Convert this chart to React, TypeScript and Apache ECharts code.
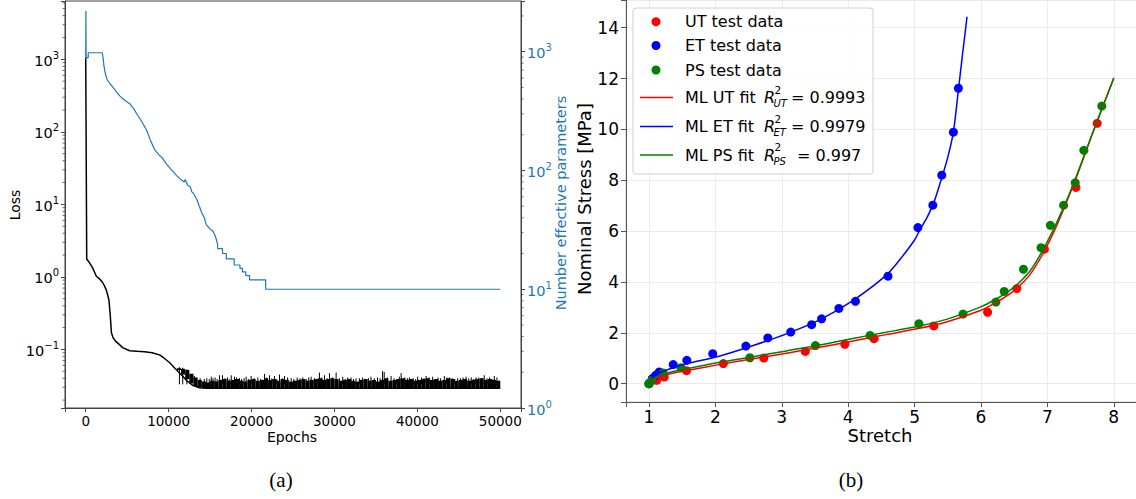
import React, { useEffect, useRef } from 'react';
import * as echarts from 'echarts';

// ---------- (a) training history ----------
const lossCurve: [number, number][] = [
  [0, 1050], [120, 1.75], [400, 1.6], [800, 1.35], [1280, 1.02], [1700, 0.93], [2000, 0.85],
  [2290, 0.74], [2500, 0.65], [2650, 0.56], [2800, 0.48], [2950, 0.3], [3100, 0.17], [3300, 0.145],
  [3600, 0.13], [3900, 0.121], [4500, 0.105], [5300, 0.096], [6200, 0.094], [7100, 0.093],
  [8000, 0.09], [8900, 0.084], [9500, 0.075], [10100, 0.066], [10900, 0.053], [11500, 0.045],
  [12200, 0.037], [12900, 0.032], [13700, 0.0296], [14500, 0.0292], [50000, 0.0292],
];

// noise band of the loss: [epoch, low, high]
const lossNoise: [number, number, number][] = [
  [11000, 0.052, 0.055], [11500, 0.045, 0.054], [12000, 0.039, 0.052], [12500, 0.034, 0.046],
  [13000, 0.031, 0.041], [13500, 0.0298, 0.038], [14000, 0.0293, 0.036], [14500, 0.0292, 0.035],
  [15000, 0.0292, 0.037], [15500, 0.0292, 0.036], [16000, 0.0292, 0.038], [16500, 0.0292, 0.039],
  [17000, 0.0292, 0.037], [17500, 0.0292, 0.038], [18000, 0.0292, 0.039], [18500, 0.0292, 0.037],
  [19000, 0.0292, 0.036], [19500, 0.0292, 0.038], [20000, 0.0292, 0.039], [20500, 0.0292, 0.037],
  [21000, 0.0292, 0.038], [21500, 0.0292, 0.04], [22000, 0.0292, 0.038], [22500, 0.0292, 0.039],
  [23000, 0.0292, 0.037], [23500, 0.0292, 0.039], [24000, 0.0292, 0.038], [24500, 0.0292, 0.036],
  [25000, 0.0292, 0.037], [25500, 0.0292, 0.038], [26000, 0.0292, 0.039], [26500, 0.0292, 0.037],
  [27000, 0.0292, 0.038], [27500, 0.0292, 0.039], [28000, 0.0292, 0.04], [28500, 0.0292, 0.038],
  [29000, 0.0292, 0.039], [29500, 0.0292, 0.04], [30000, 0.0292, 0.039], [30500, 0.0292, 0.037],
  [31000, 0.0292, 0.038], [31500, 0.0292, 0.039], [32000, 0.0292, 0.037], [32500, 0.0292, 0.036],
  [33000, 0.0292, 0.038], [33500, 0.0292, 0.039], [34000, 0.0292, 0.037], [34500, 0.0292, 0.038],
  [35000, 0.0292, 0.036], [35500, 0.0292, 0.038], [36000, 0.0292, 0.04], [36500, 0.0292, 0.037],
  [37000, 0.0292, 0.038], [37500, 0.0292, 0.039], [38000, 0.0292, 0.04], [38500, 0.0292, 0.038],
  [39000, 0.0292, 0.039], [39500, 0.0292, 0.037], [40000, 0.0292, 0.038], [40500, 0.0292, 0.039],
  [41000, 0.0292, 0.04], [41500, 0.0292, 0.038], [42000, 0.0292, 0.039], [42500, 0.0292, 0.037],
  [43000, 0.0292, 0.038], [43500, 0.0292, 0.04], [44000, 0.0292, 0.039], [44500, 0.0292, 0.037],
  [45000, 0.0292, 0.038], [45500, 0.0292, 0.039], [46000, 0.0292, 0.037], [46500, 0.0292, 0.038],
  [47000, 0.0292, 0.039], [47500, 0.0292, 0.04], [48000, 0.0292, 0.038], [48500, 0.0292, 0.039],
  [49000, 0.0292, 0.038], [49500, 0.0292, 0.037],
];

// loss spikes above the band: [epoch, peak]
const lossSpikes: [number, number][] = [
  [11300, 0.057], [11700, 0.056], [12200, 0.053], [13100, 0.043], [13800, 0.04], [14300, 0.039],
  [14600, 0.04], [14900, 0.039], [15140, 0.042], [15350, 0.04], [15600, 0.041], [15850, 0.039],
  [16140, 0.044], [16500, 0.044], [16800, 0.04], [17100, 0.041], [17300, 0.039], [17550, 0.044],
  [17950, 0.042], [18200, 0.041], [18550, 0.04], [18800, 0.039], [19100, 0.04], [19350, 0.042],
  [19650, 0.039], [19950, 0.043], [20300, 0.04], [20760, 0.041], [21100, 0.039], [21570, 0.046],
  [21850, 0.041], [22170, 0.044], [22450, 0.04], [22770, 0.043], [23050, 0.039], [23370, 0.045],
  [23700, 0.04], [23980, 0.043], [24350, 0.041], [24780, 0.04], [25100, 0.039], [25500, 0.041],
  [25850, 0.04], [26180, 0.041], [26600, 0.039], [26900, 0.041], [27190, 0.042], [27600, 0.04],
  [28190, 0.048], [28500, 0.041], [28800, 0.044], [29100, 0.04], [29400, 0.047], [29750, 0.041],
  [30200, 0.048], [30600, 0.04], [31000, 0.042], [31300, 0.039], [31600, 0.041], [32000, 0.041],
  [32300, 0.039], [32600, 0.04], [33000, 0.04], [33400, 0.041], [33800, 0.039], [34100, 0.04],
  [34400, 0.042], [34800, 0.04], [35200, 0.041], [35500, 0.04], [35800, 0.05], [36000, 0.049],
  [36400, 0.041], [36830, 0.043], [37200, 0.04], [37500, 0.039], [37830, 0.042], [38040, 0.047],
  [38500, 0.041], [38800, 0.04], [39040, 0.041], [39500, 0.04], [39800, 0.039], [40040, 0.042],
  [40500, 0.041], [40800, 0.04], [41050, 0.043], [41400, 0.041], [41850, 0.042], [42200, 0.039],
  [42500, 0.041], [42800, 0.04], [43250, 0.043], [43550, 0.041], [43860, 0.041], [44200, 0.04],
  [44500, 0.039], [44860, 0.04], [45200, 0.04], [45500, 0.041], [45870, 0.042], [46200, 0.04],
  [46500, 0.041], [46800, 0.039], [47070, 0.041], [47400, 0.041], [47700, 0.04], [48070, 0.044],
  [48400, 0.04], [48700, 0.041], [49000, 0.039], [49280, 0.043], [49600, 0.041],
];

// number of effective parameters
const paramCurve: [number, number][] = [
  [0, 880], [20, 2200], [50, 890], [300, 890], [300, 980], [2000, 980], [2100, 880], [2200, 760],
  [2300, 690], [2450, 620], [2600, 580], [2900, 540], [3500, 480], [4100, 425], [4700, 390],
  [5300, 365], [5800, 330], [6150, 300], [6700, 262], [7350, 218], [7800, 180], [8300, 150],
  [8800, 136], [9300, 126], [9800, 112], [10400, 100], [11000, 90], [11550, 83], [11900, 80],
  [12000, 84], [12300, 75], [12600, 73], [12800, 66], [13000, 64], [13400, 57], [13700, 50],
  [14000, 44], [14300, 40], [14540, 35], [15000, 32], [15300, 31], [15540, 29], [15700, 27],
  [15900, 24], [15900, 22], [16500, 22], [16500, 20], [16950, 20], [16950, 18], [17900, 18],
  [17900, 16], [18600, 16], [18600, 15], [18900, 15], [18900, 14], [19300, 14], [19300, 13],
  [19760, 13], [19760, 12], [21700, 12], [21700, 10], [50000, 10],
];

const epochTicks = [0, 10000, 20000, 30000, 40000, 50000];
const lossMinorTicks = [
  0.02, 0.03, 0.04, 0.05, 0.06, 0.07, 0.08, 0.09, 0.2, 0.3, 0.4, 0.5, 0.6, 0.7, 0.8, 0.9,
  2, 3, 4, 5, 6, 7, 8, 9, 20, 30, 40, 50, 60, 70, 80, 90, 200, 300, 400, 500, 600, 700, 800, 900,
  2000, 3000, 4000, 5000, 6000,
];
const paramMinorTicks = [
  2, 3, 4, 5, 6, 7, 8, 9, 20, 30, 40, 50, 60, 70, 80, 90, 200, 300, 400, 500, 600, 700, 800, 900, 2000,
];

// ---------- (b) stress-stretch ----------
const utData: [number, number][] = [
  [1.0, 0], [1.115, 0.13], [1.23, 0.26], [1.565, 0.51], [2.12, 0.79], [2.73, 1.01], [3.355, 1.27],
  [3.95, 1.55], [4.39, 1.77], [5.29, 2.27], [6.1, 2.81], [6.54, 3.74], [6.955, 5.29], [7.43, 7.72],
  [7.75, 10.24],
];
const etData: [number, number][] = [
  [1.0, 0], [1.05, 0.2], [1.1, 0.33], [1.155, 0.46], [1.365, 0.75], [1.57, 0.92], [1.96, 1.18],
  [2.46, 1.48], [2.79, 1.8], [3.135, 2.03], [3.45, 2.32], [3.6, 2.55], [3.86, 2.96], [4.11, 3.24],
  [4.6, 4.23], [5.05, 6.14], [5.275, 7.02], [5.41, 8.2], [5.585, 9.89], [5.66, 11.62],
];
const psData: [number, number][] = [
  [1.0, 0], [1.04, 0.12], [1.215, 0.42], [1.48, 0.63], [2.52, 1.02], [3.507, 1.5], [4.33, 1.9],
  [5.065, 2.36], [5.73, 2.74], [6.225, 3.21], [6.35, 3.63], [6.64, 4.5], [6.905, 5.35],
  [7.045, 6.23], [7.245, 7.02], [7.42, 7.9], [7.55, 9.18], [7.82, 10.92],
];
const utFit: [number, number][] = [
  [1, 0], [1.03, 0.1], [1.08, 0.18], [1.15, 0.26], [1.25, 0.34], [1.4, 0.44], [1.57, 0.52],
  [2.07, 0.76], [2.57, 0.98], [3.07, 1.2], [3.57, 1.43], [4.07, 1.68], [4.57, 1.93], [5.07, 2.18],
  [5.48, 2.43], [5.98, 2.87], [6.23, 3.2], [6.48, 3.62], [6.73, 4.26], [6.93, 5.1], [7.11, 6.04],
  [7.28, 7.09], [7.45, 8.2], [7.68, 9.84], [7.85, 11.0], [8.0, 12.03],
];
const psFit: [number, number][] = [
  [1, 0], [1.03, 0.13], [1.08, 0.22], [1.15, 0.31], [1.25, 0.4], [1.4, 0.5], [1.57, 0.59],
  [2.07, 0.84], [2.57, 1.06], [3.07, 1.29], [3.57, 1.52], [4.07, 1.78], [4.57, 2.02], [5.07, 2.27],
  [5.48, 2.53], [5.98, 3.0], [6.23, 3.33], [6.48, 3.76], [6.73, 4.4], [6.93, 5.25], [7.11, 6.17],
  [7.28, 7.15], [7.45, 8.25], [7.68, 9.85], [7.85, 11.0], [8.0, 12.0],
];
const etFit: [number, number][] = [
  [1, 0], [1.03, 0.15], [1.08, 0.3], [1.15, 0.42], [1.25, 0.52], [1.32, 0.59], [1.57, 0.79],
  [2.07, 1.09], [2.57, 1.5], [3.07, 1.96], [3.57, 2.51], [4.07, 3.27], [4.57, 4.26], [4.8, 4.95],
  [5.0, 5.65], [5.07, 6.0], [5.2, 6.6], [5.3, 7.2], [5.41, 8.1], [5.5, 8.9], [5.585, 9.9],
  [5.66, 11.55], [5.72, 12.9], [5.79, 14.43],
];
const stretchTicks = [1, 2, 3, 4, 5, 6, 7, 8];
const stressTicks = [0, 2, 4, 6, 8, 10, 12, 14];

const scatterNames = ['UT test data', 'ET test data', 'PS test data'];
const fitNames = ['ML UT fit', 'ML ET fit', 'ML PS fit'];
const fitSubs = ['UT', 'ET', 'PS'];
const fitR2 = ['0.9993', '0.9979', '0.997'];
const colors = ['#ff0000', '#0000ff', '#008000'];

const FONT = 'DejaVu Sans';
const TAB_BLUE = '#1f77b4';
const X0_MIN = -2500;
const X0_MAX = 52500;

const near = (v: number, list: number[]) => list.some((t) => Math.abs(v - t) < 1e-6);

const logLabel = (color: string) => ({
  color,
  margin: 6,
  formatter: (v: number) => {
    const l = Math.log10(v);
    const e = Math.round(l);
    if (Math.abs(l - e) > 1e-6) return '';
    return `{b|10}{s|${e < 0 ? '\u2212' + -e : e}}`;
  },
  rich: {
    b: { fontSize: 14.5, lineHeight: 18, verticalAlign: 'bottom', color, fontFamily: FONT },
    s: { fontSize: 10, lineHeight: 18, verticalAlign: 'top', color, fontFamily: FONT },
  },
});

function buildOption() {
  const axisDark = { show: true, onZero: false, lineStyle: { color: '#444', width: 1 } };
  const tick = { show: true, length: 4, lineStyle: { color: '#444' } };

  const legendEls: any[] = [
    {
      type: 'rect', shape: { x: 633, y: 8, width: 240, height: 166, r: 3 },
      style: { fill: 'rgba(255,255,255,0.85)', stroke: '#cfcfcf', lineWidth: 1 }, z: 100,
    },
  ];
  const sRows = [21.7, 45.5, 70];
  scatterNames.forEach((n, i) => {
    legendEls.push({ type: 'circle', shape: { cx: 656, cy: sRows[i], r: 4.5 }, style: { fill: colors[i] }, z: 101 });
    legendEls.push({
      type: 'text', x: 685, y: sRows[i], z: 101,
      style: { text: n, fontSize: 16, fontFamily: FONT, fill: '#000', verticalAlign: 'middle', align: 'left' },
    });
  });
  const lRows = [97.5, 126.5, 155];
  const eqX = [791, 791, 797];
  fitNames.forEach((n, i) => {
    const y = lRows[i];
    legendEls.push({ type: 'line', shape: { x1: 640, y1: y, x2: 673, y2: y }, style: { stroke: colors[i], lineWidth: 1.5 }, z: 101 });
    legendEls.push({ type: 'text', x: 685, y, z: 101, style: { text: n, fontSize: 16, fontFamily: FONT, fill: '#000', verticalAlign: 'middle' } });
    legendEls.push({ type: 'text', x: 764, y, z: 101, style: { text: 'R', fontSize: 16, fontStyle: 'italic', fontFamily: FONT, fill: '#000', verticalAlign: 'middle' } });
    legendEls.push({ type: 'text', x: 774.5, y: y - 8, z: 101, style: { text: '2', fontSize: 10.5, fontFamily: FONT, fill: '#000', verticalAlign: 'middle' } });
    legendEls.push({ type: 'text', x: 773.5, y: y + 6, z: 101, style: { text: fitSubs[i], fontSize: 10, fontStyle: 'italic', fontFamily: FONT, fill: '#000', verticalAlign: 'middle' } });
    legendEls.push({ type: 'text', x: eqX[i], y, z: 101, style: { text: '= ' + fitR2[i], fontSize: 16, fontFamily: FONT, fill: '#000', verticalAlign: 'middle' } });
  });

  const labelEls: any[] = [
    { type: 'text', x: 15, y: 205, rotation: Math.PI / 2, style: { text: 'Loss', fontSize: 14, fontFamily: FONT, fill: '#000', align: 'center', verticalAlign: 'middle' } },
    { type: 'text', x: 561, y: 203, rotation: Math.PI / 2, style: { text: 'Number effective parameters', fontSize: 14.5, fontFamily: FONT, fill: TAB_BLUE, align: 'center', verticalAlign: 'middle' } },
    { type: 'text', x: 292, y: 437, style: { text: 'Epochs', fontSize: 14, fontFamily: FONT, fill: '#000', align: 'center', verticalAlign: 'middle' } },
    { type: 'text', x: 584, y: 199, rotation: Math.PI / 2, style: { text: 'Nominal Stress [MPa]', fontSize: 18, fontFamily: FONT, fill: '#000', align: 'center', verticalAlign: 'middle' } },
    { type: 'text', x: 880, y: 435, style: { text: 'Stretch', fontSize: 18, fontFamily: FONT, fill: '#000', align: 'center', verticalAlign: 'middle' } },
    { type: 'text', x: 281, y: 480, style: { text: '(a)', fontSize: 21, fontFamily: 'Liberation Serif', fill: '#000', align: 'center', verticalAlign: 'middle' } },
    { type: 'text', x: 851, y: 480, style: { text: '(b)', fontSize: 21, fontFamily: 'Liberation Serif', fill: '#000', align: 'center', verticalAlign: 'middle' } },
  ];

  const minorTickSeries = (values: number[], yIdx: number, xEdge: number, dir: number) => ({
    type: 'custom', xAxisIndex: 0, yAxisIndex: yIdx, silent: true, z: 5,
    data: values.map((v) => [xEdge, v]),
    encode: { x: 0, y: 1 },
    renderItem: (_p: any, api: any) => {
      const p = api.coord([api.value(0), api.value(1)]);
      return { type: 'line', shape: { x1: p[0], y1: p[1], x2: p[0] + dir * 2.5, y2: p[1] }, style: { stroke: '#444', lineWidth: 0.8 } };
    },
  });

  return {
    animation: false,
    backgroundColor: '#ffffff',
    textStyle: { fontFamily: FONT },
    grid: [
      { left: 65, top: 1, width: 456, height: 407, show: true, borderColor: '#444', borderWidth: 1, containLabel: false, outerBoundsMode: 'none' },
      { left: 626, top: 0, width: 511, height: 402, show: true, borderColor: '#c8c8c8', borderWidth: 1, containLabel: false, outerBoundsMode: 'none' },
    ],
    xAxis: [
      {
        type: 'value', gridIndex: 0, min: X0_MIN, max: X0_MAX, minInterval: 10000, maxInterval: 10000,
        splitLine: { show: false }, axisLine: axisDark, axisTick: tick,
        axisLabel: { fontSize: 13.5, color: '#000', margin: 6, formatter: (v: number) => (near(v, epochTicks) ? String(Math.round(v)) : '') },
      },
      {
        type: 'value', gridIndex: 1, min: 0.654, max: 8.35, minInterval: 1, maxInterval: 1,
        splitLine: { show: true, lineStyle: { color: '#ebebeb', width: 1 } },
        axisLine: { show: true, onZero: false, lineStyle: { color: '#555' } }, axisTick: { show: true, length: 5, lineStyle: { color: '#555' } },
        axisLabel: { fontSize: 17, color: '#000', margin: 6, formatter: (v: number) => (near(v, stretchTicks) ? String(Math.round(v)) : '') },
      },
    ],
    yAxis: [
      {
        type: 'log', gridIndex: 0, position: 'left', min: 0.01556, max: 6368,
        splitLine: { show: false }, axisLine: axisDark, axisTick: tick, axisLabel: logLabel('#000'),
      },
      {
        type: 'log', gridIndex: 0, position: 'right', min: 1, max: 2672,
        splitLine: { show: false }, axisLine: axisDark, axisTick: tick, axisLabel: logLabel(TAB_BLUE),
      },
      {
        type: 'value', gridIndex: 1, min: -0.72, max: 15.09, minInterval: 2, maxInterval: 2,
        splitLine: { show: true, lineStyle: { color: '#ebebeb', width: 1 } },
        axisLine: { show: true, onZero: false, lineStyle: { color: '#555' } }, axisTick: { show: true, length: 5, lineStyle: { color: '#555' } },
        axisLabel: { fontSize: 17, color: '#000', margin: 7, formatter: (v: number) => (near(v, stressTicks) ? String(Math.round(v)) : '') },
      },
    ],
    series: [
      {
        name: 'loss', type: 'line', xAxisIndex: 0, yAxisIndex: 0, data: lossCurve, showSymbol: false,
        lineStyle: { color: '#000', width: 1.5 }, itemStyle: { color: '#000' },
      },
      {
        name: 'loss noise', type: 'custom', xAxisIndex: 0, yAxisIndex: 0, data: lossNoise, encode: { x: 0, y: [1, 2] },
        renderItem: (params: any, api: any) => {
          const i = params.dataIndex;
          const e1 = i + 1 < lossNoise.length ? lossNoise[i + 1][0] : epochTicks[epochTicks.length - 1];
          const a = api.coord([api.value(0), api.value(1)]);
          const b = api.coord([e1, api.value(2)]);
          return { type: 'rect', shape: { x: a[0], y: b[1], width: b[0] - a[0], height: a[1] - b[1] }, style: { fill: '#000' } };
        },
      },
      {
        name: 'loss spikes', type: 'custom', xAxisIndex: 0, yAxisIndex: 0, data: lossSpikes, encode: { x: 0, y: 1 },
        renderItem: (_p: any, api: any) => {
          const a = api.coord([api.value(0), 0.033]);
          const b = api.coord([api.value(0), api.value(1)]);
          return { type: 'line', shape: { x1: a[0], y1: a[1], x2: b[0], y2: b[1] }, style: { stroke: '#000', lineWidth: 1 } };
        },
      },
      {
        name: 'params', type: 'line', xAxisIndex: 0, yAxisIndex: 1, data: paramCurve, showSymbol: false,
        lineStyle: { color: TAB_BLUE, width: 1.2 }, itemStyle: { color: TAB_BLUE },
      },
      minorTickSeries(lossMinorTicks, 0, X0_MIN, -1),
      minorTickSeries(paramMinorTicks, 1, X0_MAX, 1),
      { name: scatterNames[0], type: 'scatter', xAxisIndex: 1, yAxisIndex: 2, data: utData, symbolSize: 9, itemStyle: { color: colors[0], opacity: 1 } },
      { name: scatterNames[1], type: 'scatter', xAxisIndex: 1, yAxisIndex: 2, data: etData, symbolSize: 9, itemStyle: { color: colors[1], opacity: 1 } },
      { name: scatterNames[2], type: 'scatter', xAxisIndex: 1, yAxisIndex: 2, data: psData, symbolSize: 9, itemStyle: { color: colors[2], opacity: 1 } },
      { name: fitNames[0], type: 'line', xAxisIndex: 1, yAxisIndex: 2, data: utFit, showSymbol: false, smooth: 0.3, lineStyle: { color: colors[0], width: 1.5 } },
      { name: fitNames[1], type: 'line', xAxisIndex: 1, yAxisIndex: 2, data: etFit, showSymbol: false, smooth: 0.3, lineStyle: { color: colors[1], width: 1.5 } },
      { name: fitNames[2], type: 'line', xAxisIndex: 1, yAxisIndex: 2, data: psFit, showSymbol: false, smooth: 0.3, lineStyle: { color: colors[2], width: 1.5 } },
    ],
    graphic: [...legendEls, ...labelEls],
  };
}

export default function App() {
  const ref = useRef<HTMLDivElement>(null);
  useEffect(() => {
    if (!ref.current) return;
    const chart = echarts.init(ref.current, null, { renderer: 'svg' });
    chart.setOption(buildOption() as any);
    return () => chart.dispose();
  }, []);
  return (
    <div
      ref={ref}
      style={{ position: 'fixed', left: 0, top: 0, width: 1136, height: 499, background: '#fff' }}
    />
  );
}
